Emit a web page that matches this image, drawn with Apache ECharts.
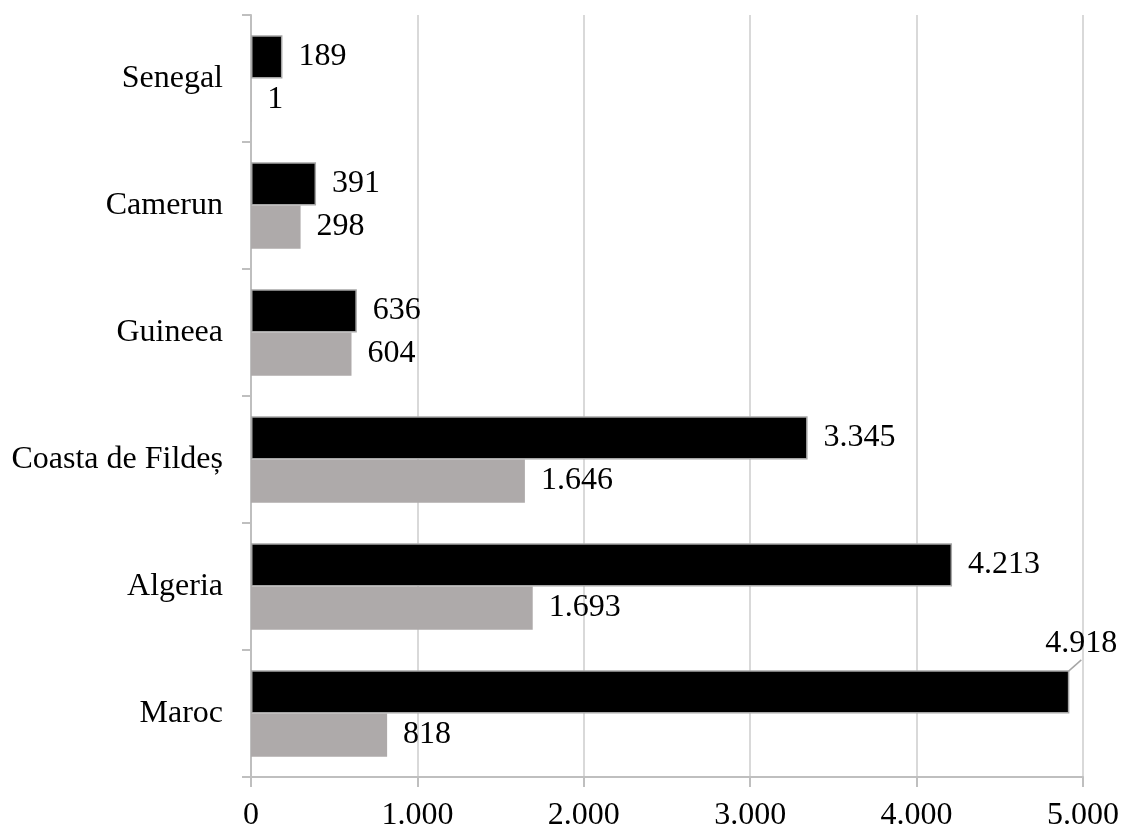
<!DOCTYPE html>
<html>
<head>
<meta charset="utf-8">
<script src="https://cdn.jsdelivr.net/npm/echarts@6/dist/echarts.min.js"></script>
<style>
  html, body { margin: 0; padding: 0; background: #fff; }
  #chart { width: 1123px; height: 828px; }
</style>
</head>
<body>
<div id="chart"></div>
<script>
// Countries, bottom to top on the category axis
const countries = ['Maroc', 'Algeria', 'Coasta de Fildeș', 'Guineea', 'Camerun', 'Senegal'];
// First series (black bars)
const valuesBlack = [4918, 4213, 3345, 636, 391, 189];
// Second series (grey bars)
const valuesGrey = [818, 1693, 1646, 604, 298, 1];
// Value axis ticks
const axisMin = 0;
const axisMax = 5000;
const axisStep = 1000;

const FONT = '"Liberation Serif", "Times New Roman", serif';
const FONT_SIZE = 32;

// Thousands separated with a dot: 4918 -> 4.918
function fmt(v) {
  return String(Math.round(v)).replace(/\B(?=(\d{3})+(?!\d))/g, '.');
}

const chart = echarts.init(document.getElementById('chart'), null, { renderer: 'canvas' });

const labelStyle = {
  show: true,
  position: 'right',
  distance: 16,
  color: '#000',
  fontFamily: FONT,
  fontSize: FONT_SIZE,
  formatter: p => fmt(p.value)
};

// The longest bar gets its label lifted above the bar with a leader line
const blackData = valuesBlack.map((v, i) => (i === 0
  ? { value: v, labelLine: { show: true, lineStyle: { color: '#a6a6a6', width: 1.5 } } }
  : { value: v }));

chart.setOption({
  animation: false,
  backgroundColor: '#ffffff',
  grid: { left: 251, right: 40, top: 15, bottom: 51, containLabel: false, outerBoundsMode: 'none' },
  xAxis: {
    type: 'value',
    min: axisMin,
    max: axisMax,
    interval: axisStep,
    axisLine: { show: true, lineStyle: { color: '#bfbfbf', width: 2 } },
    axisTick: { show: true, length: 10, lineStyle: { color: '#bfbfbf', width: 2 } },
    axisLabel: { color: '#000', fontFamily: FONT, fontSize: FONT_SIZE, margin: 23, formatter: fmt },
    splitLine: { show: true, lineStyle: { color: '#d9d9d9', width: 2 } }
  },
  yAxis: {
    type: 'category',
    data: countries,
    axisLine: { show: true, lineStyle: { color: '#bfbfbf', width: 2 } },
    axisTick: { show: true, length: 9, lineStyle: { color: '#bfbfbf', width: 2 } },
    axisLabel: { color: '#000', fontFamily: FONT, fontSize: FONT_SIZE, margin: 28 },
    splitLine: { show: false }
  },
  series: [
    {
      type: 'bar',
      data: blackData,
      barGap: '0%',
      barCategoryGap: '32%',
      itemStyle: { color: '#000000', borderColor: '#a6a6a6', borderWidth: 1.5 },
      label: labelStyle,
      labelLine: { show: false },
      labelLayout: p => (p.dataIndex === 0 ? { dx: -40, dy: -48 } : {})
    },
    {
      type: 'bar',
      data: valuesGrey,
      barGap: '0%',
      barCategoryGap: '32%',
      itemStyle: { color: '#aeaaaa' },
      label: labelStyle
    }
  ]
});
</script>
</body>
</html>
